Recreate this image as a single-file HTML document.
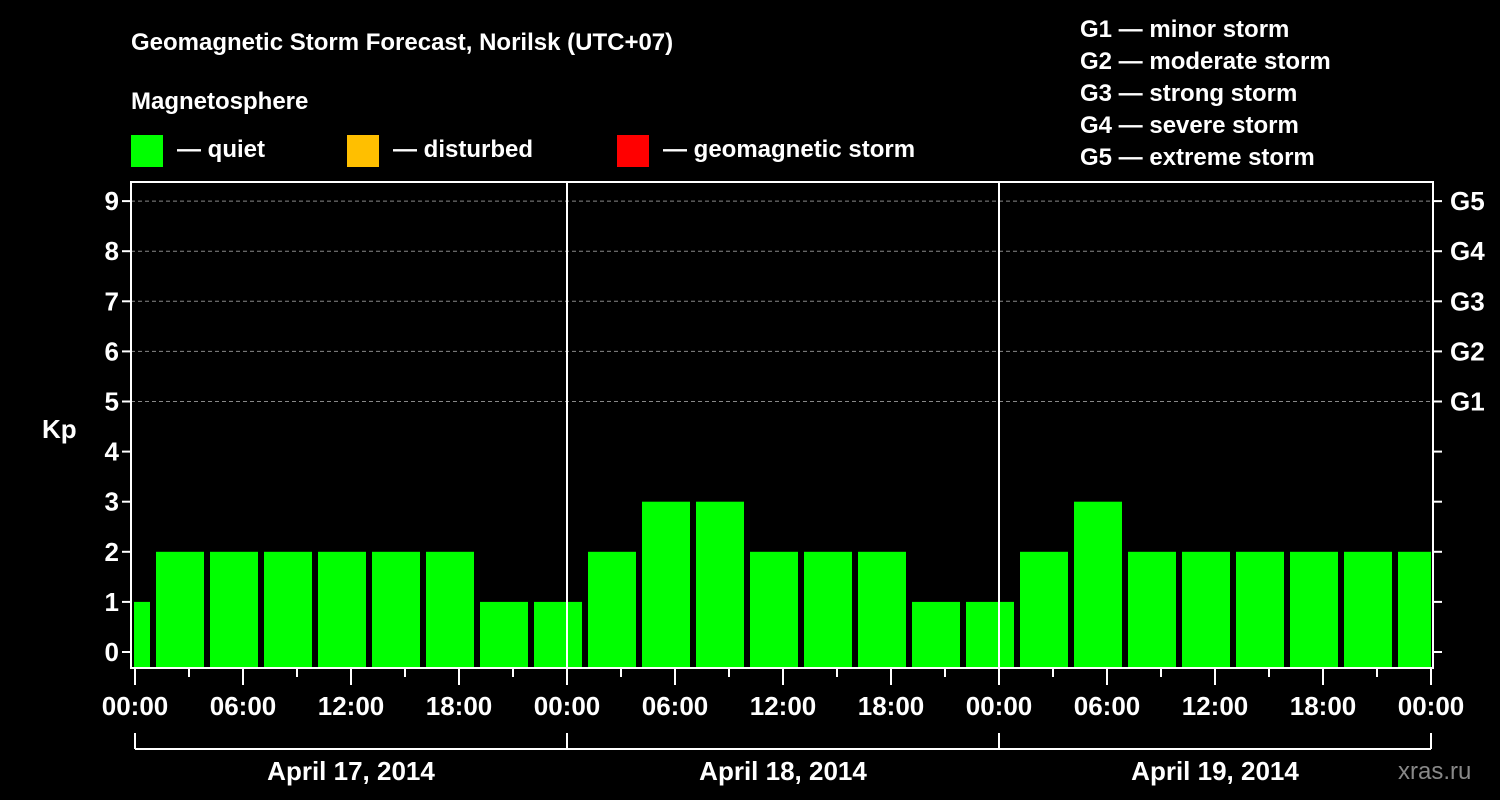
<!DOCTYPE html>
<html><head><meta charset="utf-8"><style>
html,body{margin:0;padding:0;background:#000;}
svg{display:block;font-family:"Liberation Sans",Arial,sans-serif;font-weight:bold;}
</style></head><body>
<svg id="chart" width="1500" height="800" viewBox="0 0 1500 800">
<rect width="1500" height="800" fill="#000"/>
<text x="131" y="50" fill="#fff" font-size="24">Geomagnetic Storm Forecast, Norilsk (UTC+07)</text>
<text x="131" y="109" fill="#fff" font-size="24">Magnetosphere</text>
<g><rect x="131" y="135" width="32" height="32" fill="#00ff00"/><text x="177" y="157" fill="#fff" font-size="24">— quiet</text></g>
<g><rect x="347" y="135" width="32" height="32" fill="#ffbf00"/><text x="393" y="157" fill="#fff" font-size="24">— disturbed</text></g>
<g><rect x="617" y="135" width="32" height="32" fill="#ff0000"/><text x="663" y="157" fill="#fff" font-size="24">— geomagnetic storm</text></g>
<g fill="#fff" font-size="24">
<text x="1080" y="37">G1 — minor storm</text>
<text x="1080" y="69">G2 — moderate storm</text>
<text x="1080" y="101">G3 — strong storm</text>
<text x="1080" y="133">G4 — severe storm</text>
<text x="1080" y="165">G5 — extreme storm</text>
</g>
<text x="42" y="438" fill="#fff" font-size="26">Kp</text>
<text x="1398" y="779" fill="#888" font-size="24" font-weight="normal">xras.ru</text>
<g id="grid"></g>
<g id="bars"></g>
<g id="axes"></g>
</svg>
<script>
const kpValues = [1, 2,2,2,2,2,2,1,1, 2,3,3,2,2,2,1,1, 2,3,2,2,2,2,2,2];
const slotStartHour = -2;
const slotHours = 3;
const yTicks = [0,1,2,3,4,5,6,7,8,9];
const gLabels = ["G1","G2","G3","G4","G5"];
const xTickLabels = ["00:00","06:00","12:00","18:00","00:00","06:00","12:00","18:00","00:00","06:00","12:00","18:00","00:00"];
const dayLabels = ["April 17, 2014","April 18, 2014","April 19, 2014"];

const NS="http://www.w3.org/2000/svg";
const X0=135, PXH=18, L=131, R=1433, T=182, B=668;
const xs=h=>X0+h*PXH;
const ys=v=>652-v*50.1;
function mk(tag,attrs,parent){const e=document.createElementNS(NS,tag);for(const k in attrs)e.setAttribute(k,attrs[k]);parent.appendChild(e);return e;}
const grid=document.getElementById('grid'),bars=document.getElementById('bars'),axes=document.getElementById('axes');
mk('clipPath',{id:'pc'},bars);
mk('rect',{x:L+3,y:T,width:R-L-5,height:B-T},bars.lastChild);
// grid for G levels
for(let i=0;i<gLabels.length;i++){
  const v=5+i;
  const ln=mk('line',{x1:L,x2:R,y1:ys(v),y2:ys(v),stroke:'#888','stroke-dasharray':'4,3','stroke-width':1},grid);
  
  
  const t=mk('text',{x:1450,y:ys(v)+9,fill:'#fff','font-size':26},axes);
  t.textContent=gLabels[i];
  
  
}
// bars
const bg=mk('g',{'clip-path':'url(#pc)'},bars);
kpValues.forEach((v,i)=>{
  const h0=slotStartHour+i*slotHours;
  const x1=xs(h0)+3,x2=xs(h0+slotHours)-3;
  const col=v>=5?'#ff0000':(v>=4?'#ffbf00':'#00ff00');
  const r=mk('rect',{x:x1,y:ys(v),width:x2-x1,height:B-ys(v)-1,fill:col},bg);
  
  
});
// frame
const fr=mk('rect',{x:L,y:T,width:R-L,height:B-T,fill:'none',stroke:'#fff','stroke-width':2},axes);


for(let d=1;d<dayLabels.length;d++){
  const ln=mk('line',{x1:xs(24*d),x2:xs(24*d),y1:T,y2:B,stroke:'#fff','stroke-width':2},axes);
  
  
}
// y ticks
yTicks.forEach(v=>{
  mk('line',{x1:L-9,x2:L,y1:ys(v),y2:ys(v),stroke:'#fff','stroke-width':2},axes);
  mk('line',{x1:R,x2:R+9,y1:ys(v),y2:ys(v),stroke:'#fff','stroke-width':2},axes);
  const t=mk('text',{x:L-12,y:ys(v)+9,fill:'#fff','font-size':26,'text-anchor':'end'},axes);
  t.textContent=String(v);
  
  
});
// x ticks
for(let h=0;h<=72;h+=3){
  const major=h%6===0;
  mk('line',{x1:xs(h),x2:xs(h),y1:B,y2:B+(major?17:9),stroke:'#fff','stroke-width':2},axes);
}
xTickLabels.forEach((s,i)=>{
  const t=mk('text',{x:xs(i*6),y:715,fill:'#fff','font-size':26,'text-anchor':'middle'},axes);
  t.textContent=s;
  
  
});
// day brackets
mk('line',{x1:xs(0),x2:xs(72),y1:749,y2:749,stroke:'#fff','stroke-width':2},axes);
for(let d=0;d<=dayLabels.length;d++){
  mk('line',{x1:xs(24*d),x2:xs(24*d),y1:733,y2:749,stroke:'#fff','stroke-width':2},axes);
}
dayLabels.forEach((s,i)=>{
  const t=mk('text',{x:xs(24*i+12),y:780,fill:'#fff','font-size':26,'text-anchor':'middle'},axes);
  t.textContent=s;
  
  
});
</script>
</body></html>
